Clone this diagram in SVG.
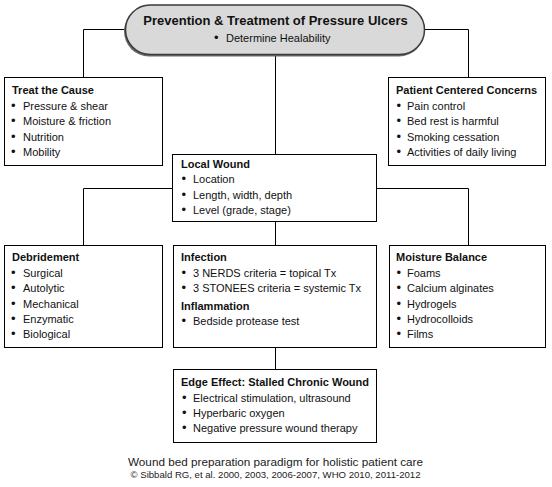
<svg xmlns="http://www.w3.org/2000/svg" width="552" height="487" viewBox="0 0 552 487">
<style>
text{font-family:"Liberation Sans",Arial,sans-serif;font-size:11px;fill:#111}
.t{font-weight:bold}
.big{font-weight:bold;font-size:13px}
.b{font-size:13px}
.box{fill:#fff;stroke:#000;stroke-width:1}
.con{fill:none;stroke:#000;stroke-width:1}
.cap{font-size:11px;fill:#222}
.cap2{font-size:9.5px;fill:#222}
</style>
<rect width="552" height="487" fill="#fff"/>
<g id="connectors">
<polyline class="con" points="126,29.5 83.5,29.5 83.5,78"/>
<polyline class="con" points="424,29.5 468.5,29.5 468.5,78"/>
<line class="con" x1="275.5" y1="55" x2="275.5" y2="155"/>
<polyline class="con" points="173,188.5 83.5,188.5 83.5,246"/>
<polyline class="con" points="377,188.5 468.5,188.5 468.5,246"/>
<line class="con" x1="275.5" y1="222" x2="275.5" y2="246"/>
<line class="con" x1="275.5" y1="348" x2="275.5" y2="370"/>
</g>
<g id="title">
<rect x="124" y="6.5" width="300" height="50" rx="25" fill="#6b6b6b"/>
<rect x="125.5" y="5" width="299" height="49.5" rx="24.75" fill="#d9d9d9" stroke="#3a3a3a" stroke-width="1.5"/>
<text class="big" x="275.5" y="25" text-anchor="middle">Prevention &amp; Treatment of Pressure Ulcers</text>
<text y="42"><tspan class="b" x="214">•</tspan><tspan x="226">Determine Healability</tspan></text>
</g>
<g id="treat">
<rect class="box" x="4.5" y="77.5" width="158" height="88"/>
<text class="t" x="12" y="94">Treat the Cause</text>
<text y="110"><tspan class="b" x="11">•</tspan><tspan x="23">Pressure &amp; shear</tspan></text>
<text y="125"><tspan class="b" x="11">•</tspan><tspan x="23">Moisture &amp; friction</tspan></text>
<text y="140.5"><tspan class="b" x="11">•</tspan><tspan x="23">Nutrition</tspan></text>
<text y="156"><tspan class="b" x="11">•</tspan><tspan x="23">Mobility</tspan></text>
</g>
<g id="patient">
<rect class="box" x="388.5" y="77.5" width="157" height="88"/>
<text class="t" x="396" y="94">Patient Centered Concerns</text>
<text y="110"><tspan class="b" x="396.5">•</tspan><tspan x="407">Pain control</tspan></text>
<text y="125"><tspan class="b" x="396.5">•</tspan><tspan x="407">Bed rest is harmful</tspan></text>
<text y="140.5"><tspan class="b" x="396.5">•</tspan><tspan x="407">Smoking cessation</tspan></text>
<text y="156"><tspan class="b" x="396.5">•</tspan><tspan x="407">Activities of daily living</tspan></text>
</g>
<g id="local">
<rect class="box" x="172.5" y="154.5" width="204" height="67"/>
<text class="t" x="181" y="168">Local Wound</text>
<text y="183"><tspan class="b" x="181.5">•</tspan><tspan x="193">Location</tspan></text>
<text y="198.5"><tspan class="b" x="181.5">•</tspan><tspan x="193">Length, width, depth</tspan></text>
<text y="214"><tspan class="b" x="181.5">•</tspan><tspan x="193">Level (grade, stage)</tspan></text>
</g>
<g id="debridement">
<rect class="box" x="4.5" y="245.5" width="158" height="102"/>
<text class="t" x="12" y="261">Debridement</text>
<text y="277"><tspan class="b" x="11">•</tspan><tspan x="23">Surgical</tspan></text>
<text y="292"><tspan class="b" x="11">•</tspan><tspan x="23">Autolytic</tspan></text>
<text y="307.5"><tspan class="b" x="11">•</tspan><tspan x="23">Mechanical</tspan></text>
<text y="322.5"><tspan class="b" x="11">•</tspan><tspan x="23">Enzymatic</tspan></text>
<text y="337.5"><tspan class="b" x="11">•</tspan><tspan x="23">Biological</tspan></text>
</g>
<g id="infection">
<rect class="box" x="173.5" y="245.5" width="203" height="102"/>
<text class="t" x="181" y="261">Infection</text>
<text y="277"><tspan class="b" x="181.5">•</tspan><tspan x="193">3 NERDS criteria = topical Tx</tspan></text>
<text y="292"><tspan class="b" x="181.5">•</tspan><tspan x="193">3 STONEES criteria = systemic Tx</tspan></text>
<text class="t" x="181" y="310">Inflammation</text>
<text y="325"><tspan class="b" x="181.5">•</tspan><tspan x="193">Bedside protease test</tspan></text>
</g>
<g id="moisture">
<rect class="box" x="389.5" y="245.5" width="156" height="102"/>
<text class="t" x="396" y="261">Moisture Balance</text>
<text y="277"><tspan class="b" x="396.5">•</tspan><tspan x="407">Foams</tspan></text>
<text y="292"><tspan class="b" x="396.5">•</tspan><tspan x="407">Calcium alginates</tspan></text>
<text y="307.5"><tspan class="b" x="396.5">•</tspan><tspan x="407">Hydrogels</tspan></text>
<text y="322.5"><tspan class="b" x="396.5">•</tspan><tspan x="407">Hydrocolloids</tspan></text>
<text y="337.5"><tspan class="b" x="396.5">•</tspan><tspan x="407">Films</tspan></text>
</g>
<g id="edge">
<rect class="box" x="173.5" y="369.5" width="203" height="73"/>
<text class="t" x="181" y="386">Edge Effect: Stalled Chronic Wound</text>
<text y="402"><tspan class="b" x="182">•</tspan><tspan x="193">Electrical stimulation, ultrasound</tspan></text>
<text y="417"><tspan class="b" x="182">•</tspan><tspan x="193">Hyperbaric oxygen</tspan></text>
<text y="432"><tspan class="b" x="182">•</tspan><tspan x="193">Negative pressure wound therapy</tspan></text>
</g>
<g id="caption">
<text class="cap" x="275.5" y="466" text-anchor="middle" textLength="295" lengthAdjust="spacingAndGlyphs">Wound bed preparation paradigm for holistic patient care</text>
<text class="cap2" x="275.5" y="478" text-anchor="middle" textLength="290" lengthAdjust="spacingAndGlyphs">© Sibbald RG, et al. 2000, 2003, 2006-2007, WHO 2010, 2011-2012</text>
</g>
</svg>
